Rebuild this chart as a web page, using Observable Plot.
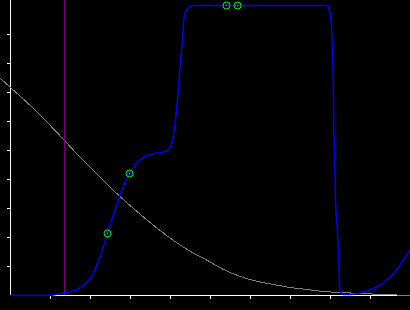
<!DOCTYPE html>
<html>
<head>
<meta charset="utf-8">
<script src="https://cdn.jsdelivr.net/npm/d3@7"></script>
<script src="https://cdn.jsdelivr.net/npm/@observablehq/plot@0.6"></script>
<style>
  html, body { margin: 0; padding: 0; background: #000; }
  #chart svg { display: block; }
</style>
</head>
<body>
<div id="chart"></div>
<script>
// Tick positions
const xTicks = [1, 2, 3, 4, 5, 6, 7, 8, 9, 10];
const yTicks = [1, 2, 3, 4, 5, 6, 7, 8, 9];

// Blue curve
const blueX = [0, 0.925, 1.125, 1.25, 1.375, 1.5, 1.625, 1.75, 1.875, 2.0, 2.125, 2.25, 2.425, 2.55, 2.675, 2.8, 2.975, 3.125, 3.25, 3.425, 3.575, 3.75, 3.875, 3.95, 4.0, 4.05, 4.1, 4.15, 4.2, 4.2375, 4.275, 4.31, 4.33, 4.375, 4.45, 4.575, 7.925, 7.958, 8.0, 8.043, 8.068, 8.083, 8.108, 8.125, 8.168, 8.208, 8.233, 8.325, 8.5, 8.675, 8.875, 9.0, 9.175, 9.325, 9.5, 9.675, 9.875, 10.0];
const blueY = [0, 0, 0.034, 0.069, 0.103, 0.138, 0.19, 0.276, 0.414, 0.586, 0.931, 1.379, 2.138, 2.69, 3.207, 3.69, 4.207, 4.517, 4.69, 4.828, 4.897, 4.931, 4.966, 5.034, 5.138, 5.345, 5.793, 6.379, 7.172, 7.862, 8.448, 9.034, 9.483, 9.759, 9.931, 10, 10, 9.897, 9.655, 8.69, 7.517, 5.793, 4.655, 3.276, 2.345, 1.207, 0.172, 0.034, 0.034, 0.069, 0.138, 0.207, 0.31, 0.448, 0.655, 0.931, 1.345, 1.586];

// Gray curve
const grayX = [-0.25, 0, 0.575, 1.35, 1.7, 2.125, 2.5, 2.875, 3.25, 3.675, 4.075, 4.5, 4.925, 5.325, 5.75, 6.175, 6.575, 7.0, 7.425, 7.825, 8.25, 8.75, 9.325, 10];
const grayY = [7.483, 7.172, 6.448, 5.345, 4.828, 4.241, 3.724, 3.241, 2.793, 2.31, 1.897, 1.517, 1.207, 0.897, 0.655, 0.483, 0.379, 0.276, 0.207, 0.138, 0.103, 0.069, 0.034, 0];

// Vertical marker line
const markerX = [1.35];

// Highlighted points
const ptX = [2.425, 2.975, 5.4, 5.675];
const ptY = [2.138, 4.207, 10, 10];

const yTop = 295 / 29;

const blue = blueX.map((x, i) => ({x, y: blueY[i]}));
const gray = grayX.map((x, i) => ({x, y: grayY[i]}));
const pts = ptX.map((x, i) => ({x, y: ptY[i]}));

const chart = Plot.plot({
  width: 410,
  height: 310,
  marginLeft: 10,
  marginRight: 0,
  marginTop: 0,
  marginBottom: 15,
  style: {background: "#000", color: "#fff"},
  x: {domain: [0, 10], axis: null},
  y: {domain: [0, yTop], axis: null},
  marks: [
    Plot.axisX({ticks: xTicks, tickSize: 4, tickFormat: () => "", label: null, stroke: "#fff", strokeWidth: 1, shapeRendering: "crispEdges"}),
    Plot.axisY({ticks: yTicks, tickSize: 3, tickFormat: () => "", label: null, stroke: "#fff", strokeWidth: 1, shapeRendering: "crispEdges"}),
    Plot.ruleY([0], {stroke: "#fff", strokeWidth: 1, shapeRendering: "crispEdges"}),
    Plot.ruleX([0], {y1: 0, y2: yTop, stroke: "#fff", strokeWidth: 1, shapeRendering: "crispEdges"}),
    Plot.line(gray, {x: "x", y: "y", stroke: "#808080", strokeWidth: 1, curve: "monotone-x", shapeRendering: "crispEdges"}),
    Plot.ruleX(markerX, {y1: 0, y2: yTop, stroke: "#800080", strokeWidth: 1, shapeRendering: "crispEdges"}),
    Plot.line(blue, {x: "x", y: "y", stroke: "#0000ff", strokeWidth: 1.5, curve: "monotone-x"}),
    Plot.dot(pts, {x: "x", y: "y", r: 3.5, stroke: "#00ff00", strokeWidth: 1, fill: "none"}),
    Plot.dot(pts, {x: "x", y: "y", r: 0.7, fill: "#00ff00", stroke: "none"})
  ]
});
document.getElementById("chart").appendChild(chart);
</script>
</body>
</html>
